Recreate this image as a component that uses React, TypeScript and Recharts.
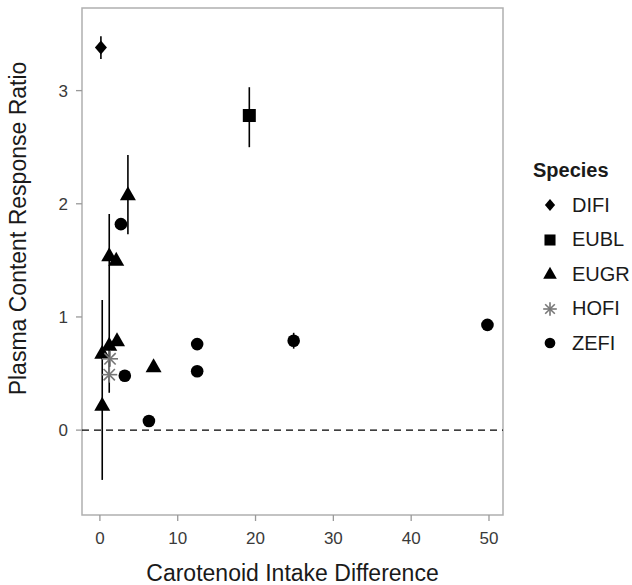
import {
  ErrorBar,
  Legend,
  ReferenceArea,
  ReferenceLine,
  Scatter,
  ScatterChart,
  XAxis,
  YAxis,
} from 'recharts';

const FONT = '"Liberation Sans", Arial, Helvetica, sans-serif';

const species = ['DIFI', 'EUBL', 'EUGR', 'HOFI', 'ZEFI'];

// values; err = [below, above]
const difiX = [0.13];
const difiY = [3.38];
const difiErrLow = [0.1];
const difiErrHigh = [0.1];

const eublX = [19.2];
const eublY = [2.78];
const eublErrLow = [0.28];
const eublErrHigh = [0.25];

const eugrX = [3.6, 1.2, 2.1, 0.3, 1.2, 2.2, 0.3, 6.9];
const eugrY = [2.08, 1.54, 1.5, 0.68, 0.75, 0.79, 0.22, 0.56];
const eugrErrLow = [0.35, 1.21, 0, 0, 0, 0, 0.66, 0];
const eugrErrHigh = [0.35, 0.37, 0, 0, 0, 0, 0.93, 0];

const hofiX = [1.3, 1.2];
const hofiY = [0.63, 0.49];
const hofiErrLow = [0, 0];
const hofiErrHigh = [0, 0];

const zefiX = [2.7, 3.2, 6.3, 12.5, 12.5, 24.9, 49.8];
const zefiY = [1.82, 0.48, 0.08, 0.76, 0.52, 0.79, 0.93];
const zefiErrLow = [0, 0, 0, 0, 0, 0.07, 0];
const zefiErrHigh = [0, 0, 0, 0, 0, 0.07, 0];

const xTicks = [0, 10, 20, 30, 40, 50];
const yTicks = [0, 1, 2, 3];
const xDomain = [-2.3, 51.8];
const yDomain = [-0.75, 3.73];

const toPoints = (xs: number[], ys: number[], lo: number[], hi: number[]) =>
  xs.map((x, i) => ({ x, y: ys[i], err: [lo[i], hi[i]] }));

const difiData = toPoints(difiX, difiY, difiErrLow, difiErrHigh);
const eublData = toPoints(eublX, eublY, eublErrLow, eublErrHigh);
const eugrData = toPoints(eugrX, eugrY, eugrErrLow, eugrErrHigh);
const hofiData = toPoints(hofiX, hofiY, hofiErrLow, hofiErrHigh);
const zefiData = toPoints(zefiX, zefiY, zefiErrLow, zefiErrHigh);

function Marker({ kind, cx, cy, s = 1 }: { kind: string; cx: number; cy: number; s?: number }) {
  switch (kind) {
    case 'DIFI':
      return (
        <polygon
          points={`${cx},${cy - 7 * s} ${cx + 6 * s},${cy} ${cx},${cy + 7 * s} ${cx - 6 * s},${cy}`}
          fill="#000"
        />
      );
    case 'EUBL':
      return <rect x={cx - 6.5 * s} y={cy - 6.5 * s} width={13 * s} height={13 * s} fill="#000" />;
    case 'EUGR':
      return (
        <polygon
          points={`${cx},${cy - 8.5 * s} ${cx + 8 * s},${cy + 5.5 * s} ${cx - 8 * s},${cy + 5.5 * s}`}
          fill="#000"
        />
      );
    case 'HOFI': {
      const r = 8 * s;
      const d = r * 0.707;
      return (
        <g stroke="#777" strokeWidth={1.6}>
          <line x1={cx - r} y1={cy} x2={cx + r} y2={cy} />
          <line x1={cx} y1={cy - r} x2={cx} y2={cy + r} />
          <line x1={cx - d} y1={cy - d} x2={cx + d} y2={cy + d} />
          <line x1={cx - d} y1={cy + d} x2={cx + d} y2={cy - d} />
        </g>
      );
    }
    default:
      return <circle cx={cx} cy={cy} r={6.3 * s} fill="#000" />;
  }
}

const shapeFor = (kind: string) => (props: any) => <Marker kind={kind} cx={props.cx} cy={props.cy} />;

function SpeciesLegend() {
  return (
    <div style={{ fontFamily: FONT, color: '#1a1a1a' }}>
      <div style={{ fontWeight: 'bold', fontSize: 20, lineHeight: '24px', marginBottom: 6 }}>Species</div>
      {species.map((name) => (
        <div key={name} style={{ display: 'flex', alignItems: 'center', height: 34.5 }}>
          <svg width={24} height={24} style={{ marginLeft: 5 }}>
            <Marker kind={name} cx={12} cy={12} s={0.85} />
          </svg>
          <span style={{ marginLeft: 10, fontSize: 20 }}>{name}</span>
        </div>
      ))}
    </div>
  );
}

export default function App() {
  const errBar = (
    <ErrorBar dataKey="err" direction="y" width={0} stroke="#000" strokeWidth={1.6} isAnimationActive={false} />
  );
  return (
    <div style={{ position: 'absolute', left: 0, top: 0, width: 632, height: 585, background: '#fff', fontFamily: FONT }}>
      <ScatterChart width={632} height={585} margin={{ top: 8, right: 129, bottom: 0, left: 0 }}>
        <ReferenceArea
          x1={xDomain[0]}
          x2={xDomain[1]}
          y1={yDomain[0]}
          y2={yDomain[1]}
          fill="none"
          stroke="#b0b0b0"
          strokeWidth={1.5}
          ifOverflow="visible"
        />
        <XAxis
          type="number"
          dataKey="x"
          domain={xDomain}
          allowDataOverflow
          ticks={xTicks}
          height={70}
          axisLine={false}
          tickSize={6}
          tickMargin={11}
          tickLine={{ stroke: '#999', strokeWidth: 1.3 }}
          tick={{ fill: '#3a3a3a', fontSize: 17 }}
          label={{ value: 'Carotenoid Intake Difference', position: 'insideBottom', offset: 4, fill: '#1a1a1a', fontSize: 23 }}
        />
        <YAxis
          type="number"
          dataKey="y"
          domain={yDomain}
          allowDataOverflow
          ticks={yTicks}
          width={82}
          axisLine={false}
          tickSize={6}
          tickMargin={8}
          tickLine={{ stroke: '#999', strokeWidth: 1.3 }}
          tick={{ fill: '#3a3a3a', fontSize: 17 }}
          label={{
            value: 'Plasma Content Response Ratio',
            angle: -90,
            position: 'insideLeft',
            offset: 18,
            dy: -33,
            fill: '#1a1a1a',
            fontSize: 23,
            style: { textAnchor: 'middle' },
          }}
        />
        <ReferenceLine y={0} stroke="#000" strokeWidth={1.3} strokeDasharray="7 5" />
        <Scatter name="DIFI" data={difiData} shape={shapeFor('DIFI')} isAnimationActive={false}>
          {errBar}
        </Scatter>
        <Scatter name="EUBL" data={eublData} shape={shapeFor('EUBL')} isAnimationActive={false}>
          {errBar}
        </Scatter>
        <Scatter name="EUGR" data={eugrData} shape={shapeFor('EUGR')} isAnimationActive={false}>
          {errBar}
        </Scatter>
        <Scatter name="HOFI" data={hofiData} shape={shapeFor('HOFI')} isAnimationActive={false}>
          {errBar}
        </Scatter>
        <Scatter name="ZEFI" data={zefiData} shape={shapeFor('ZEFI')} isAnimationActive={false}>
          {errBar}
        </Scatter>
        <Legend
          layout="vertical"
          align="center"
          verticalAlign="middle"
          content={() => <SpeciesLegend />}
          wrapperStyle={{ left: 533, top: 158, width: 99 }}
        />
      </ScatterChart>
    </div>
  );
}
